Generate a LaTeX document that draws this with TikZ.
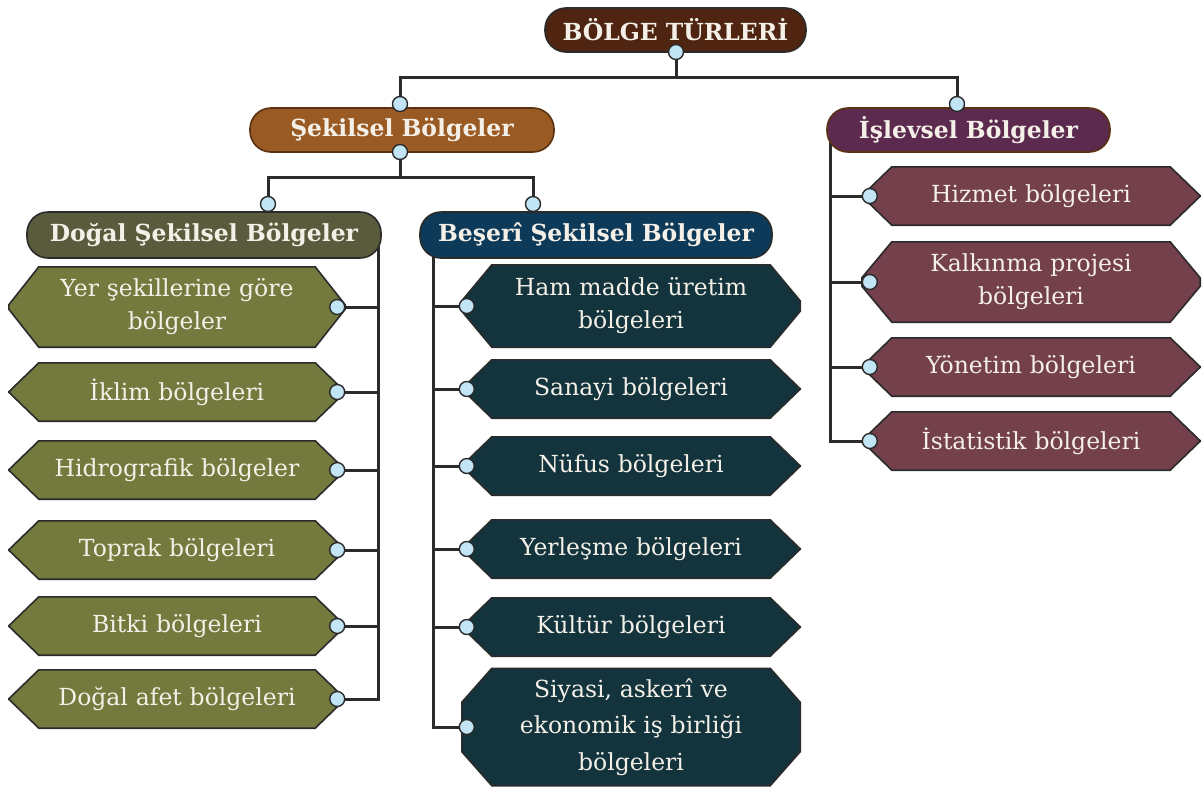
\documentclass[tikz,border=0pt]{standalone}
\usepackage{fontspec}
\setmainfont{DejaVu Serif}
\usetikzlibrary{calc}
\pgfdeclarelayer{bg}
\pgfdeclarelayer{lines}
\pgfsetlayers{bg,lines,main}
\definecolor{edgec}{HTML}{2B2B2B}
\definecolor{topc}{HTML}{4F2511}
\definecolor{sekc}{HTML}{9A5A24}
\definecolor{islc}{HTML}{5D2A4F}
\definecolor{dogc}{HTML}{5A5B3C}
\definecolor{besc}{HTML}{0E3A59}
\definecolor{olivec}{HTML}{747A3D}
\definecolor{tealc}{HTML}{13343D}
\definecolor{maroonc}{HTML}{73404B}
\definecolor{dotc}{HTML}{C2E5F6}
\definecolor{txtc}{HTML}{F4F0E8}
\definecolor{brownedge}{HTML}{5A3212}
\tikzset{
  header/.style={rectangle, rounded corners=21pt, draw=edgec, line width=1.6pt,
    text=txtc, font=\fontsize{23.5}{28}\selectfont\bfseries, inner sep=0pt, minimum height=44pt},
  item/.style={inner sep=0pt, text=txtc, align=center,
    font=\fontsize{23.5}{33}\selectfont, minimum width=#1, text width=320pt},
  item/.default=338pt,
  dot/.style={circle, fill=dotc, draw=edgec, line width=1.4pt, minimum size=15pt, inner sep=0pt},
  conn/.style={draw=edgec, line width=3pt},
}
\newcommand\chbox[3]{%
  \begin{pgfonlayer}{bg}
  \filldraw[fill=#2, draw=edgec, line width=1.6pt]
    ([xshift=30pt]#1.north west) -- ([xshift=-30pt]#1.north east) --
    ([yshift=-#3]#1.north east) -- ([yshift=#3]#1.south east) --
    ([xshift=-30pt]#1.south east) -- ([xshift=30pt]#1.south west) --
    ([yshift=#3]#1.south west) -- ([yshift=-#3]#1.north west) -- cycle;
  \end{pgfonlayer}}
\begin{document}
\begin{tikzpicture}[x=1pt,y=-1pt]
\useasboundingbox (0,0) rectangle (1203,788);
\begin{pgfonlayer}{bg}
\fill[white] (0,0) rectangle (1203,788);
\end{pgfonlayer}
% headers
\node[header, fill=topc, minimum width=261pt] (top) at (675.5,30) {BÖLGE TÜRLERİ};
\node[header, fill=sekc, draw=brownedge, minimum width=304pt] (sek) at (402,130) {Şekilsel Bölgeler};
\node[header, fill=islc, draw=brownedge, minimum width=283pt] (isl) at (968.5,130) {İşlevsel Bölgeler};
\node[header, fill=dogc, minimum width=354pt, minimum height=46pt] (dog) at (204,235) {Doğal Şekilsel Bölgeler};
\node[header, fill=besc, minimum width=352pt, minimum height=46pt] (bes) at (596,235) {Beşerî Şekilsel Bölgeler};
% left items
\node[item=336pt, minimum height=80pt] (l1) at (177,307) {Yer şekillerine göre\\bölgeler};
\node[item=336pt, minimum height=58pt] (l2) at (177,392) {İklim bölgeleri};
\node[item=336pt, minimum height=58pt] (l3) at (177,470) {Hidrografik bölgeler};
\node[item=336pt, minimum height=58pt] (l4) at (177,550) {Toprak bölgeleri};
\node[item=336pt, minimum height=58pt] (l5) at (177,626) {Bitki bölgeleri};
\node[item=336pt, minimum height=58pt] (l6) at (177,699) {Doğal afet bölgeleri};
\chbox{l1}{olivec}{38pt}\chbox{l2}{olivec}{29pt}\chbox{l3}{olivec}{29pt}
\chbox{l4}{olivec}{29pt}\chbox{l5}{olivec}{29pt}\chbox{l6}{olivec}{29pt}
% middle items
\node[item, minimum height=82pt] (m1) at (631,306) {Ham madde üretim\\bölgeleri};
\node[item, minimum height=58pt] (m2) at (631,389) {Sanayi bölgeleri};
\node[item, minimum height=58pt] (m3) at (631,466) {Nüfus bölgeleri};
\node[item, minimum height=58pt] (m4) at (631,549) {Yerleşme bölgeleri};
\node[item, minimum height=58pt] (m5) at (631,627) {Kültür bölgeleri};
\node[item, minimum height=117pt, font=\fontsize{23.5}{36.5}\selectfont] (m6) at (631,727) {Siyasi, askerî ve\\ekonomik iş birliği\\bölgeleri};
\chbox{m1}{tealc}{36pt}\chbox{m2}{tealc}{29pt}\chbox{m3}{tealc}{29pt}
\chbox{m4}{tealc}{29pt}\chbox{m5}{tealc}{29pt}\chbox{m6}{tealc}{34pt}
% right items
\node[item, minimum height=58pt] (r1) at (1031,196) {Hizmet bölgeleri};
\node[item, minimum height=80pt] (r2) at (1031,282) {Kalkınma projesi\\bölgeleri};
\node[item, minimum height=58pt] (r3) at (1031,367) {Yönetim bölgeleri};
\node[item, minimum height=58pt] (r4) at (1031,441) {İstatistik bölgeleri};
\chbox{r1}{maroonc}{29pt}\chbox{r2}{maroonc}{36pt}\chbox{r3}{maroonc}{29pt}\chbox{r4}{maroonc}{29pt}
% dots
\node[dot] (c0) at (676,52) {};
\node[dot] (c1) at (400,104) {};
\node[dot] (c2) at (957,104) {};
\node[dot] (c3) at (400,152) {};
\node[dot] (c4) at (268,204) {};
\node[dot] (c5) at (533,204) {};
\foreach \n in {1,...,6}{\node[dot] (dl\n) at ([xshift=-8pt]l\n.east) {};}
\foreach \n in {1,...,6}{\node[dot] (dm\n) at ([xshift=5pt]m\n.west) {};}
\foreach \n in {1,...,4}{\node[dot] (dr\n) at ([xshift=8pt]r\n.west) {};}
\coordinate (vl) at (378,240);
\coordinate (vm) at (433,240);
\coordinate (vr) at (830,135);
% connectors
\begin{pgfonlayer}{lines}
\draw[conn] (c0.center) -- ++(0,25) -| (c1.center);
\draw[conn] (c0.center) -- ++(0,25) -| (c2.center);
\draw[conn] (c3.center) -- ++(0,25) -| (c4.center);
\draw[conn] (c3.center) -- ++(0,25) -| (c5.center);
\draw[conn] (vl) |- (dl6.center);
\foreach \n in {1,...,5}{\draw[conn] (dl\n.center) -- (dl\n.center -| vl);}
\draw[conn] (vm) |- (dm6.center);
\foreach \n in {1,...,5}{\draw[conn] (dm\n.center) -- (dm\n.center -| vm);}
\draw[conn] (vr) |- (dr4.center);
\foreach \n in {1,...,3}{\draw[conn] (dr\n.center) -- (dr\n.center -| vr);}
\end{pgfonlayer}
\end{tikzpicture}
\end{document}
